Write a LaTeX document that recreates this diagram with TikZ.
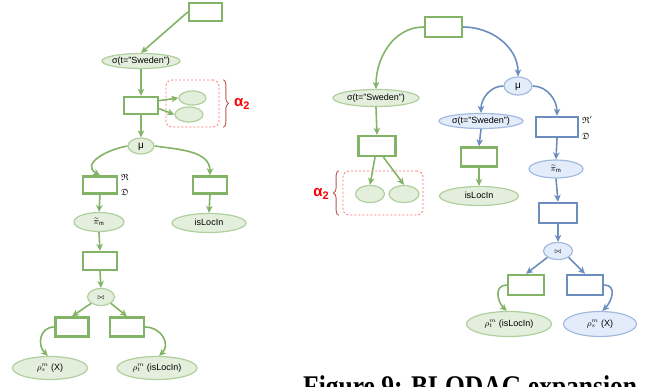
\documentclass[tikz,border=0pt]{standalone}
\usepackage{amssymb}
\usepackage{fontspec}
\setmainfont{Liberation Sans}
\newfontfamily\capfont{Liberation Serif}
\usetikzlibrary{shapes.geometric,arrows.meta,decorations.pathreplacing}

\definecolor{gline}{HTML}{82B366}
\definecolor{gfill}{HTML}{E4EEDD}
\definecolor{gedge}{HTML}{B0CF9C}
\definecolor{bline}{HTML}{6C8EBF}
\definecolor{bfill}{HTML}{E3ECFA}
\definecolor{bedge}{HTML}{A2BBDF}
\definecolor{grpred}{HTML}{FF6B6B}
\definecolor{bracered}{HTML}{B85450}

\begin{document}
\begin{tikzpicture}[x=1pt, y=-1pt,
	gbox/.style={rectangle, draw=gline, line width=2.4pt, minimum width=34pt, minimum height=18pt, inner sep=0pt},
	bbox/.style={gbox, draw=bline},
	gell/.style={ellipse, draw=gedge, fill=gfill, line width=1.2pt, inner xsep=-4pt, inner ysep=0pt, text height=6pt, text depth=2pt, font=\fontsize{9}{9}\selectfont},
	bell/.style={gell, draw=bedge, fill=bfill},
	garr/.style={draw=gline, line width=1.6pt, -{Stealth[length=7pt,width=6.5pt,inset=2pt]}},
	barr/.style={garr, draw=bline},
	grp/.style={draw=grpred, dash pattern=on 2pt off 2pt, rounded corners=6pt, line width=0.8pt, inner sep=0pt},
	brc/.style={draw=bracered, line width=0.9pt, decorate, decoration={brace, amplitude=5pt}},
	alab/.style={text=red, inner sep=0pt, font=\fontsize{15}{15}\bfseries\selectfont},
	tag/.style={inner sep=0pt, font=\fontsize{9}{9}\selectfont}
	]
	\useasboundingbox (0,0) rectangle (652,386);
	\clip (0,0) rectangle (652,386);

	% left tree
	\node (ltop) [gbox, minimum width=33pt] at (205.5,12) {};
	\node (lsig) [gell, minimum width=78pt, minimum height=15pt] at (141,61) {σ(t="Sweden")};
	\node (lbox) [gbox, minimum height=17pt] at (141,105.5) {};
		\node (le1) [gell, minimum width=27pt, minimum height=14pt] at (192.5,98) {};
		\node (le2) [gell, minimum width=28pt, minimum height=15pt] at (189,114.5) {};
		\node (lgrp) [grp, minimum width=53pt, minimum height=47pt] at (192.5,103.5) {};
		\node (lal) [alab, anchor=west] at (234,104) {α\raisebox{-3pt}{\fontsize{11}{11}\selectfont 2}};
	\node (lmu) [gell, minimum width=26pt, minimum height=16pt, font=\fontsize{10}{10}\selectfont] at (141,146) {μ};
		\node (lbr) [gbox, minimum height=17pt] at (100,185) {};
			\node (lrk) [tag, anchor=west] at (121,177) {$\mathfrak{R}$};
			\node (ldk) [tag, anchor=west] at (121,192) {$\mathfrak{D}$};
		\node (lbm) [gbox, minimum height=17pt] at (210,185) {};
		\node (lpi) [gell, minimum width=50pt, minimum height=19pt] at (99,222) {$\widetilde{\pi}_{\mathrm{m}}$};
		\node (lloc) [gell, minimum width=74pt, minimum height=19pt] at (209,223) {isLocIn};
		\node (lbj) [gbox] at (100,261) {};
		\node (ljoin) [gell, minimum width=27pt, minimum height=17pt, font=\fontsize{7}{7}\selectfont] at (101,297) {$\bowtie$};
			\node (lbl) [gbox, minimum width=33pt, minimum height=19pt] at (72,327) {};
			\node (lbr2) [gbox, minimum height=19pt] at (127,327) {};
			\node (lrs) [gell, minimum width=75pt, minimum height=23pt] at (50,368) {$\rho_s^m$ (X)};
			\node (lrt) [gell, minimum width=80pt, minimum height=23pt] at (157,368) {$\rho_t^m$ (isLocIn)};

	\draw [garr] (ltop.west) -- (lsig.north);
	\draw [garr] (lsig.south) -- (lbox.north);
	\draw [garr] (lbox.15) -- (le1.west);
	\draw [garr] (lbox.-10) -- (le2.west);
	\draw [brc] ([xshift=4pt]lgrp.north east) -- ([xshift=4pt]lgrp.south east);
	\draw [garr] (lbox.south) -- (lmu.north);
	\draw [garr] (lmu.west) to[out=190, in=150, looseness=1.4] (lbr.north);
	\draw [garr] (lmu.east) to[out=-8, in=90] (lbm.north);
	\draw [garr] (lbr.south) -- (lpi.north);
	\draw [garr] (lbm.south) -- (lloc.north);
	\draw [garr] (lpi.south) -- (lbj.north);
	\draw [garr] (lbj.south) -- (ljoin.north);
	\draw [garr] (ljoin.south west) -- (lbl.north);
	\draw [garr] (ljoin.south east) -- (lbr2.north);
	\draw [garr] (lbl.west) to[out=180, in=135, looseness=1.3] (lrs.100);
	\draw [garr] (lbr2.east) to[out=0, in=45, looseness=1.3] (lrt.80);

	% right tree
	\node (rtop) [gbox, minimum width=37pt, minimum height=20pt] at (443.5,27) {};
	\node (rsig) [gell, minimum width=86pt, minimum height=17pt] at (376,98) {σ(t="Sweden")};
	\node (rgbox) [gbox, minimum width=37pt, minimum height=20pt] at (377,146) {};
		\node (re1) [gell, minimum width=29pt, minimum height=17pt] at (370,194) {};
		\node (re2) [gell, minimum width=30pt, minimum height=17pt] at (404,194) {};
		\node (rgrp) [grp, minimum width=80pt, minimum height=44pt] at (383,193) {};
		\node (ral) [alab, anchor=east] at (329,194) {α\raisebox{-3pt}{\fontsize{11}{11}\selectfont 2}};
	\node (rmu) [bell, minimum width=28pt, minimum height=18pt, font=\fontsize{10}{10}\selectfont] at (518,86) {μ};
		\node (rbsig) [bell, minimum width=84pt, minimum height=15pt] at (481,121) {σ(t="Sweden")};
		\node (rgbox2) [gbox, minimum width=36pt, minimum height=19pt] at (479,157) {};
		\node (rloc) [gell, minimum width=79pt, minimum height=19pt] at (479,196) {isLocIn};
		\node (rbbox) [bbox, minimum width=42pt, minimum height=20pt] at (557,127) {};
			\node (rrk) [tag, anchor=west] at (582,120) {$\mathfrak{R}'$};
			\node (rdk) [tag, anchor=west] at (582,136) {$\mathfrak{D}$};
		\node (rpi) [bell, minimum width=54pt, minimum height=18pt] at (556,169) {$\widetilde{\pi}_{\mathrm{m}}$};
		\node (rbbox2) [bbox, minimum width=38pt, minimum height=20pt] at (558,213) {};
		\node (rjoin) [bell, minimum width=29pt, minimum height=17pt, font=\fontsize{7}{7}\selectfont] at (558,251) {$\bowtie$};
			\node (rgbox3) [gbox, minimum width=36pt, minimum height=20pt] at (526,285) {};
			\node (rbbox3) [bbox, minimum width=36pt, minimum height=20pt] at (585,285) {};
			\node (rrt) [gell, minimum width=85pt, minimum height=25pt] at (509,324) {$\rho_t^m$ (isLocIn)};
			\node (rrs) [bell, minimum width=73pt, minimum height=25pt] at (600,324) {$\rho_s^m$ (X)};

	\draw [garr] (rtop.west) to[out=180, in=90] (rsig.north);
	\draw [barr] (rtop.east) to[out=0, in=90] (rmu.north);
	\draw [garr] (rsig.south) -- (rgbox.north);
	\draw [garr] (rgbox.-100) -- (re1.north);
	\draw [garr] (rgbox.-60) -- (re2.north);
	\draw [brc] ([xshift=-4pt]rgrp.south west) -- ([xshift=-4pt]rgrp.north west);
	\draw [barr] (rmu.west) to[out=180, in=90] (rbsig.north);
	\draw [barr] (rmu.east) to[out=0, in=90] (rbbox.north);
	\draw [barr] (rbsig.south) -- (rgbox2.north);
	\draw [garr] (rgbox2.south) -- (rloc.north);
	\draw [barr] (rbbox.south) -- (rpi.north);
	\draw [barr] (rpi.south) -- (rbbox2.north);
	\draw [barr] (rbbox2.south) -- (rjoin.north);
	\draw [barr] (rjoin.south west) -- (rgbox3.north);
	\draw [barr] (rjoin.south east) -- (rbbox3.north);
	\draw [garr] (rgbox3.west) to[out=180, in=135, looseness=1.3] (rrt.100);
	\draw [barr] (rbbox3.east) to[out=0, in=45, looseness=1.3] (rrs.80);

	% caption, cut by the frame
	\node (cap) [anchor=base west, inner sep=0pt, font=\capfont\bfseries\fontsize{30}{30}\selectfont] at (303,396) {\scalebox{0.85}[1]{Figure 9: BLODAG expansion}};
\end{tikzpicture}
\end{document}
